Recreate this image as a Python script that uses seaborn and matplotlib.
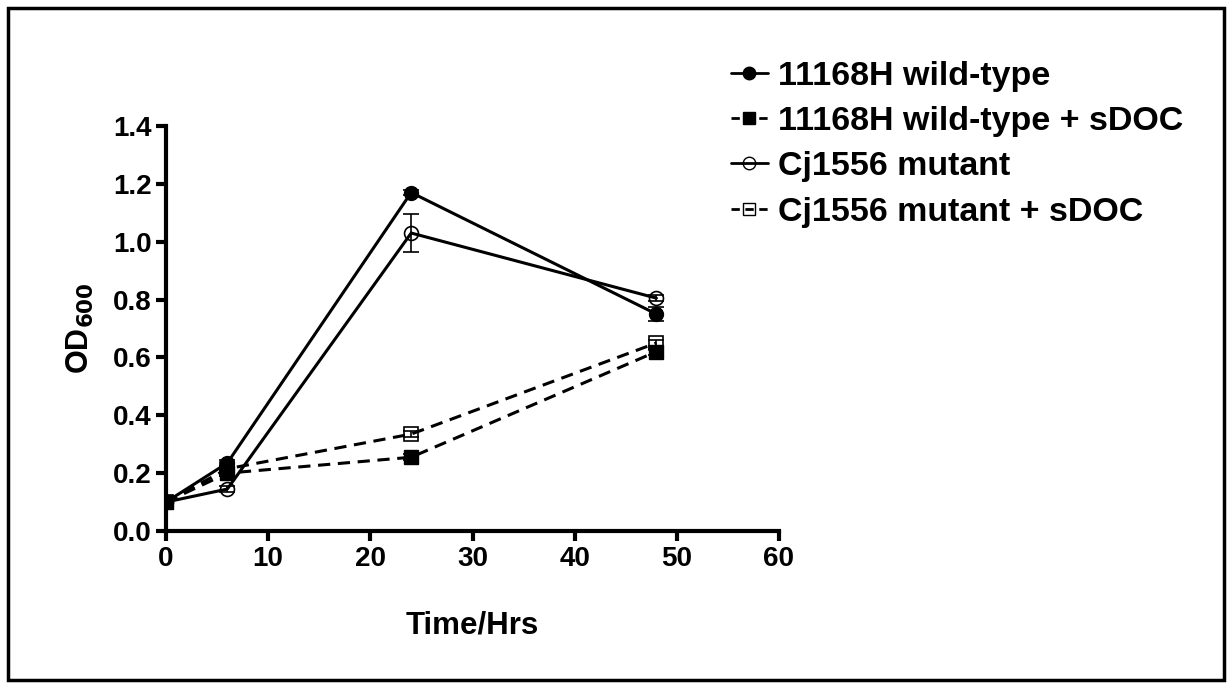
import matplotlib
matplotlib.use("Agg")
import matplotlib.pyplot as plt
import seaborn as sns
import pandas as pd
from matplotlib.lines import Line2D

# Werte
time_hrs = [0, 6, 24, 48]
wt = [0.10, 0.235, 1.17, 0.75]
wt_sdoc = [0.10, 0.20, 0.255, 0.62]
mutant = [0.10, 0.145, 1.03, 0.805]
mutant_sdoc = [0.10, 0.215, 0.335, 0.65]
wt_err = [0.0, 0.01, 0.01, 0.025]
wt_sdoc_err = [0.0, 0.01, 0.01, 0.01]
mutant_err = [0.0, 0.01, 0.065, 0.01]
mutant_sdoc_err = [0.0, 0.01, 0.01, 0.01]

labels = ["11168H wild-type", "11168H wild-type + sDOC", "Cj1556 mutant", "Cj1556 mutant + sDOC"]
series = [wt, wt_sdoc, mutant, mutant_sdoc]
errors = [wt_err, wt_sdoc_err, mutant_err, mutant_sdoc_err]
markers = ["o", "s", "o", "s"]
filled = [True, True, False, False]
dashed = [False, True, False, True]

sns.set_style("ticks")
plt.rcParams["font.family"] = ["Liberation Sans", "DejaVu Sans"]
plt.rcParams["font.weight"] = "bold"
plt.rcParams["mathtext.default"] = "bf"
for k in ["text.color", "axes.labelcolor", "xtick.color", "ytick.color", "axes.edgecolor"]:
    plt.rcParams[k] = "black"

fig = plt.figure(figsize=(12.32, 6.88), dpi=100)
ax = fig.add_axes([166 / 1232, 1 - 531 / 688, (779 - 166) / 1232, (531 - 126) / 688])

handles = []
for lab, vals, err, m, f, d in zip(labels, series, errors, markers, filled, dashed):
    df = pd.DataFrame({"t": time_hrs, "od": vals})
    ls = (0, (4, 2.5)) if d else "-"
    mfc = "black" if f else "none"
    ax.errorbar(time_hrs, vals, yerr=err, fmt="none", ecolor="black", elinewidth=1.2, capsize=6, capthick=1.2)
    sns.lineplot(data=df, x="t", y="od", ax=ax, color="black", linewidth=2.2, linestyle=ls,
                 marker=m, markersize=10, markerfacecolor=mfc, markeredgecolor="black",
                 markeredgewidth=1.2 if not f else 1)
    handles.append(Line2D([0], [0], color="black", linewidth=2, linestyle=(0, (3, 2)) if d else "-",
                          marker=m, markersize=9, markerfacecolor=mfc, markeredgecolor="black",
                          markeredgewidth=1))

ax.set_xlim(0, 60)
ax.set_ylim(0, 1.4)
ax.set_xticks([0, 10, 20, 30, 40, 50, 60])
ax.set_yticks([0.0, 0.2, 0.4, 0.6, 0.8, 1.0, 1.2, 1.4])
ax.set_yticklabels(["0.0", "0.2", "0.4", "0.6", "0.8", "1.0", "1.2", "1.4"])
ax.tick_params(labelsize=20, width=3, length=7, direction="out")
for lbl in ax.get_xticklabels() + ax.get_yticklabels():
    lbl.set_fontweight("bold")
for s in ["left", "bottom"]:
    ax.spines[s].set_linewidth(3)
sns.despine(ax=ax)
ax.spines["left"].set_bounds(0, 1.4)
ax.spines["bottom"].set_bounds(0, 60)
for s in ax.spines.values():
    s.set_clip_on(False)

ax.set_xlabel("Time/Hrs", fontsize=22.5, fontweight="bold", labelpad=28)
ax.set_ylabel(r"OD$_{\mathbf{600}}$", fontsize=22, fontweight="bold", labelpad=12)

fig.legend(handles=handles, labels=labels, loc="upper left", bbox_to_anchor=(700 / 1232, 1 - 30 / 688),
           frameon=False, handlelength=1.1, handletextpad=0.3, labelspacing=0.42,
           prop={"weight": "bold", "size": 24.5})

# Rahmen um die ganze Abbildung
fig.patches.append(plt.Rectangle((8 / 1232, 8 / 688), 1 - 16 / 1232, 1 - 16 / 688, transform=fig.transFigure,
                                 fill=False, edgecolor="black", linewidth=2.5))

fig.savefig("out.png", dpi=100)
